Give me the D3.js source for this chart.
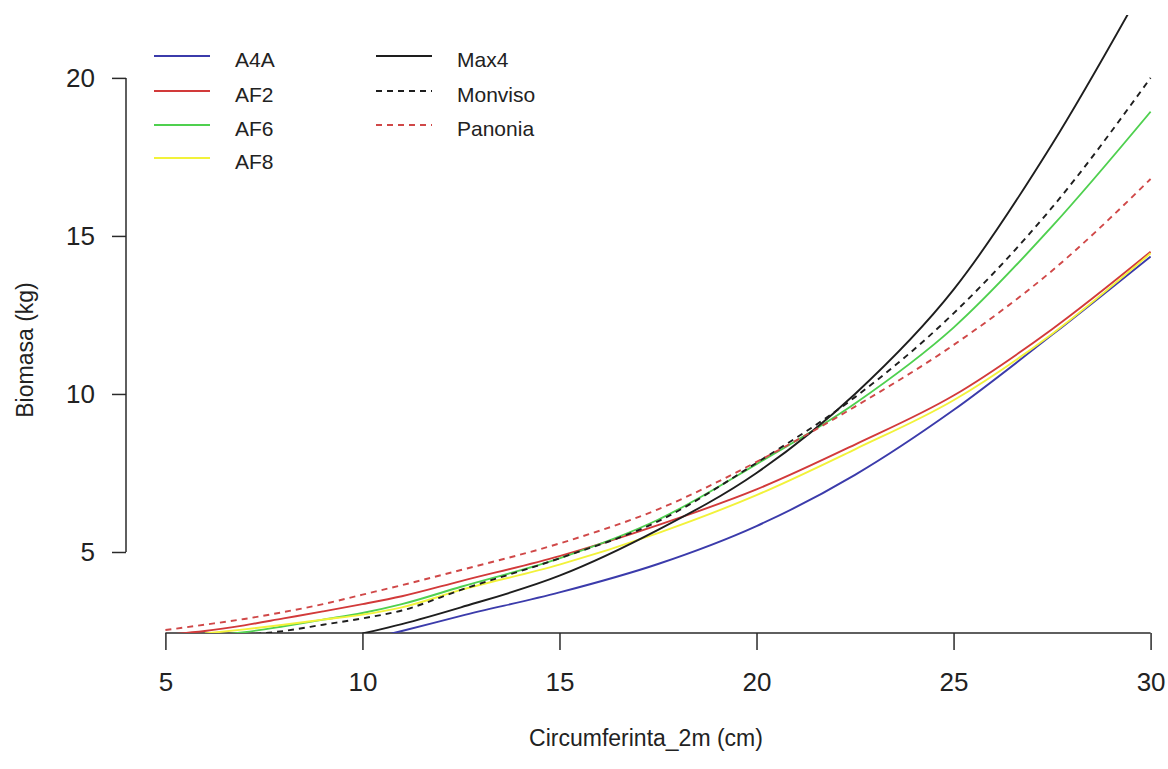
<!DOCTYPE html>
<html>
<head>
<meta charset="utf-8">
<script src="https://cdn.jsdelivr.net/npm/d3@7"></script>
<style>
  html, body { margin: 0; padding: 0; background: #fff; }
  svg { display: block; font-family: "Liberation Sans", Arial, sans-serif; }
</style>
</head>
<body>
<svg id="chart" width="1168" height="769"></svg>
<script>
// ---- data ----
const xs = [5, 6, 7, 8, 9, 10, 11, 12.5, 15, 17.5, 20, 22.5, 25, 27.5, 30];
const A4A     = [null, null, null, null, null, 2.2, 2.5, 2.98, 3.72, 4.62, 5.82, 7.44, 9.49, 11.87, 14.35];
const AF2     = [2.38, 2.5, 2.68, 2.9, 3.12, 3.35, 3.6, 4.08, 4.87, 5.85, 6.98, 8.4, 9.95, 12.05, 14.5];
const AF6     = [null, 2.33, 2.46, 2.65, 2.86, 3.07, 3.35, 3.9, 4.8, 6.02, 7.78, 9.7, 12.1, 15.3, 18.93];
const AF8     = [null, 2.42, 2.55, 2.7, 2.86, 3.02, 3.25, 3.8, 4.6, 5.6, 6.8, 8.25, 9.8, 11.9, 14.45];
const Max4    = [null, null, null, null, null, 2.42, 2.72, 3.25, 4.25, 5.7, 7.5, 10.0, 13.3, 17.9, 23.3];
const Monviso = [null, null, 2.38, 2.5, 2.7, 2.9, 3.15, 3.8, 4.8, 5.97, 7.82, 9.9, 12.55, 15.9, 20.0];
const Panonia = [2.53, 2.7, 2.88, 3.1, 3.35, 3.65, 3.95, 4.43, 5.27, 6.35, 7.85, 9.6, 11.55, 13.9, 16.8];

const seriesNames = ["A4A", "AF2", "AF6", "AF8", "Max4", "Monviso", "Panonia"];
const seriesValues = [A4A, AF2, AF6, AF8, Max4, Monviso, Panonia];
const seriesColors = ["#3b3bab", "#d23a3a", "#4fd04f", "#f2f23a", "#1e1e1e", "#1e1e1e", "#d04848"];
const seriesDashed = [false, false, false, false, false, true, true];

const xTicks = [5, 10, 15, 20, 25, 30];
const yTicks = [5, 10, 15, 20];
const xTitle = "Circumferinta_2m (cm)";
const yTitle = "Biomasa (kg)";

// ---- layout ----
const svg = d3.select("#chart");
const x = d3.scaleLinear().domain([4, 31]).range([126, 1190]);
const y = d3.scaleLinear().domain([2.437, 21.99]).range([633, 15]);

svg.append("defs").append("clipPath").attr("id", "plotclip")
  .append("rect")
  .attr("x", x.range()[0]).attr("y", y.range()[1])
  .attr("width", x.range()[1] - x.range()[0])
  .attr("height", y.range()[0] - y.range()[1]);

const axisColor = "#2a2a2a";

// X axis
const gx = svg.append("g").attr("transform", `translate(0,${y.range()[0]})`)
  .call(d3.axisBottom(x).tickValues(xTicks).tickSize(17).tickPadding(23).tickFormat(d3.format("d")));
gx.select(".domain").remove();
gx.append("line").attr("x1", x(xTicks[0])).attr("x2", x(xTicks[xTicks.length - 1]))
  .attr("y1", 0).attr("y2", 0).attr("stroke", axisColor).attr("stroke-width", 1.5);
gx.selectAll(".tick line").attr("stroke", axisColor).attr("stroke-width", 1.5);
gx.selectAll(".tick text").attr("fill", "#222").style("font-size", "26px");

// Y axis
const gy = svg.append("g").attr("transform", `translate(${x.range()[0]},0)`)
  .call(d3.axisLeft(y).tickValues(yTicks).tickSize(14).tickPadding(17).tickFormat(d3.format("d")));
gy.select(".domain").remove();
gy.append("line").attr("x1", 0).attr("x2", 0)
  .attr("y1", y(yTicks[0])).attr("y2", y(yTicks[yTicks.length - 1]))
  .attr("stroke", axisColor).attr("stroke-width", 1.5);
gy.selectAll(".tick line").attr("stroke", axisColor).attr("stroke-width", 1.5);
gy.selectAll(".tick text").attr("fill", "#222").style("font-size", "26px");

// Titles
svg.append("text").attr("x", 646).attr("y", 746).attr("text-anchor", "middle")
  .attr("fill", "#222").style("font-size", "23px").text(xTitle);
svg.append("text").attr("transform", "translate(33,350) rotate(-90)").attr("text-anchor", "middle")
  .attr("fill", "#222").style("font-size", "23px").text(yTitle);

// Lines
const line = d3.line()
  .defined(d => d[1] !== null)
  .x(d => x(d[0])).y(d => y(d[1]))
  .curve(d3.curveMonotoneX);

const plot = svg.append("g").attr("clip-path", "url(#plotclip)");
seriesNames.forEach((name, i) => {
  const pts = xs.map((xv, j) => [xv, seriesValues[i][j]]);
  plot.append("path")
    .datum(pts)
    .attr("fill", "none")
    .attr("stroke", seriesColors[i])
    .attr("stroke-width", 1.9)
    .attr("stroke-dasharray", seriesDashed[i] ? "6,5" : null)
    .attr("d", line);
});

// Legend
const legCols = [{lx: 154, tx: 235}, {lx: 376, tx: 457}];
const legRows = [56, 91, 125, 158];
seriesNames.forEach((name, i) => {
  const col = i < 4 ? legCols[0] : legCols[1];
  const row = i < 4 ? i : i - 4;
  const yy = legRows[row];
  svg.append("line")
    .attr("x1", col.lx).attr("x2", col.lx + 56)
    .attr("y1", yy).attr("y2", yy)
    .attr("stroke", seriesColors[i]).attr("stroke-width", 1.9)
    .attr("stroke-dasharray", seriesDashed[i] ? "6,5" : null);
  svg.append("text")
    .attr("x", col.tx).attr("y", yy + 4).attr("dy", "0.32em")
    .attr("fill", "#222").style("font-size", "21px").text(name);
});
</script>
</body>
</html>
